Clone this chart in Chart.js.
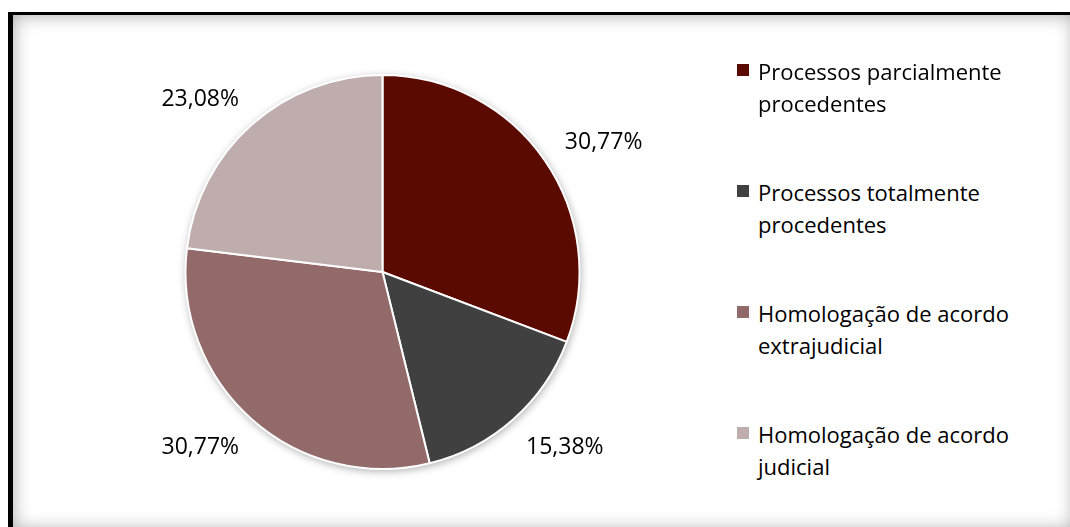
<!DOCTYPE html>
<html>
<head>
<meta charset="utf-8">
<title>Processos</title>
<script src="https://cdn.jsdelivr.net/npm/chart.js@4.4.0/dist/chart.umd.min.js"></script>
<style>
  html, body { margin: 0; padding: 0; background: #fff; overflow: hidden; }
  body { width: 1070px; height: 527px; position: relative; font-family: "Open Sans", sans-serif; }
  #frame {
    position: absolute; left: 8px; top: 12px; width: 1066px; height: 518px;
    box-sizing: border-box;
    border-top: 3px solid #000; border-left: 5px solid #000;
    box-shadow: inset 0 0 18px rgba(0, 0, 0, 0.35);
  }
  #pieBox { position: absolute; left: 13px; top: 16px; width: 739px; height: 512px; }
  #legend {
    position: absolute; left: 758px; top: 55px; margin: 0; padding: 0;
    list-style: none; font-size: 22px; line-height: 32px; color: #000;
  }
  #legend li { position: relative; margin-bottom: 57px; white-space: nowrap; }
  #legend li span { position: absolute; left: -21px; top: 9px; width: 12px; height: 12px; }
</style>
</head>
<body>
<div id="frame"></div>
<div id="pieBox"><canvas id="pie"></canvas></div>
<ul id="legend"></ul>
<script>
const categories = [
  ['Processos parcialmente', 'procedentes'],
  ['Processos totalmente', 'procedentes'],
  ['Homologação de acordo', 'extrajudicial'],
  ['Homologação de acordo', 'judicial']
];
const shares = [30.77, 15.38, 30.77, 23.08];
const sliceColors = ['#5b0a00', '#404040', '#936a6a', '#bfadad'];

// legend as a list next to the canvas, built from the chart's own legend items
const htmlLegend = {
  id: 'htmlLegend',
  afterUpdate(chart) {
    const list = document.getElementById('legend');
    list.innerHTML = '';
    const items = chart.options.plugins.legend.labels.generateLabels(chart);
    items.forEach(item => {
      const li = document.createElement('li');
      const box = document.createElement('span');
      box.style.background = item.fillStyle;
      li.appendChild(box);
      const lines = Array.isArray(item.text) ? item.text : [item.text];
      lines.forEach((line, k) => {
        if (k > 0) li.appendChild(document.createElement('br'));
        li.appendChild(document.createTextNode(line));
      });
      list.appendChild(li);
    });
  }
};

// soft shadow under the pie and percentage labels outside each slice
const outsideLabels = {
  id: 'outsideLabels',
  beforeDatasetsDraw(chart) {
    const arc = chart.getDatasetMeta(0).data[0];
    if (!arc) return;
    const ctx = chart.ctx;
    ctx.save();
    ctx.shadowColor = 'rgba(0, 0, 0, 0.35)';
    ctx.shadowBlur = 8;
    ctx.shadowOffsetX = 1;
    ctx.shadowOffsetY = 2;
    ctx.beginPath();
    ctx.arc(arc.x, arc.y, arc.outerRadius, 0, Math.PI * 2);
    ctx.fillStyle = '#fff';
    ctx.fill();
    ctx.restore();
  },
  afterDatasetsDraw(chart) {
    const ctx = chart.ctx;
    const meta = chart.getDatasetMeta(0);
    const values = chart.data.datasets[0].data;
    ctx.save();
    ctx.font = '23px "Open Sans"';
    ctx.fillStyle = '#000';
    ctx.textAlign = 'center';
    ctx.textBaseline = 'alphabetic';
    meta.data.forEach((arc, i) => {
      const p = arc.getProps(['x', 'y', 'startAngle', 'endAngle', 'outerRadius'], true);
      const mid = (p.startAngle + p.endAngle) / 2;
      const ux = Math.cos(mid), uy = Math.sin(mid);
      const m = Math.max(Math.abs(ux), Math.abs(uy));
      const text = values[i].toFixed(2).replace('.', ',') + '%';
      const w = ctx.measureText(text).width;
      const h = 16;
      const cx = p.x + ux * (p.outerRadius + 10) + (w / 2 + 12) * ux / m;
      const cy = p.y + uy * (p.outerRadius + 10) + (h / 2 + 11) * uy / m;
      ctx.fillText(text, cx, cy + h / 2);
    });
    ctx.restore();
  }
};

new Chart(document.getElementById('pie'), {
  type: 'pie',
  data: {
    labels: categories,
    datasets: [{
      data: shares,
      backgroundColor: sliceColors,
      borderColor: '#fff',
      borderWidth: 2,
      radius: 197
    }]
  },
  options: {
    responsive: true,
    maintainAspectRatio: false,
    animation: false,
    events: [],
    plugins: {
      legend: { display: false },
      tooltip: { enabled: false }
    }
  },
  plugins: [htmlLegend, outsideLabels]
});
</script>
</body>
</html>
